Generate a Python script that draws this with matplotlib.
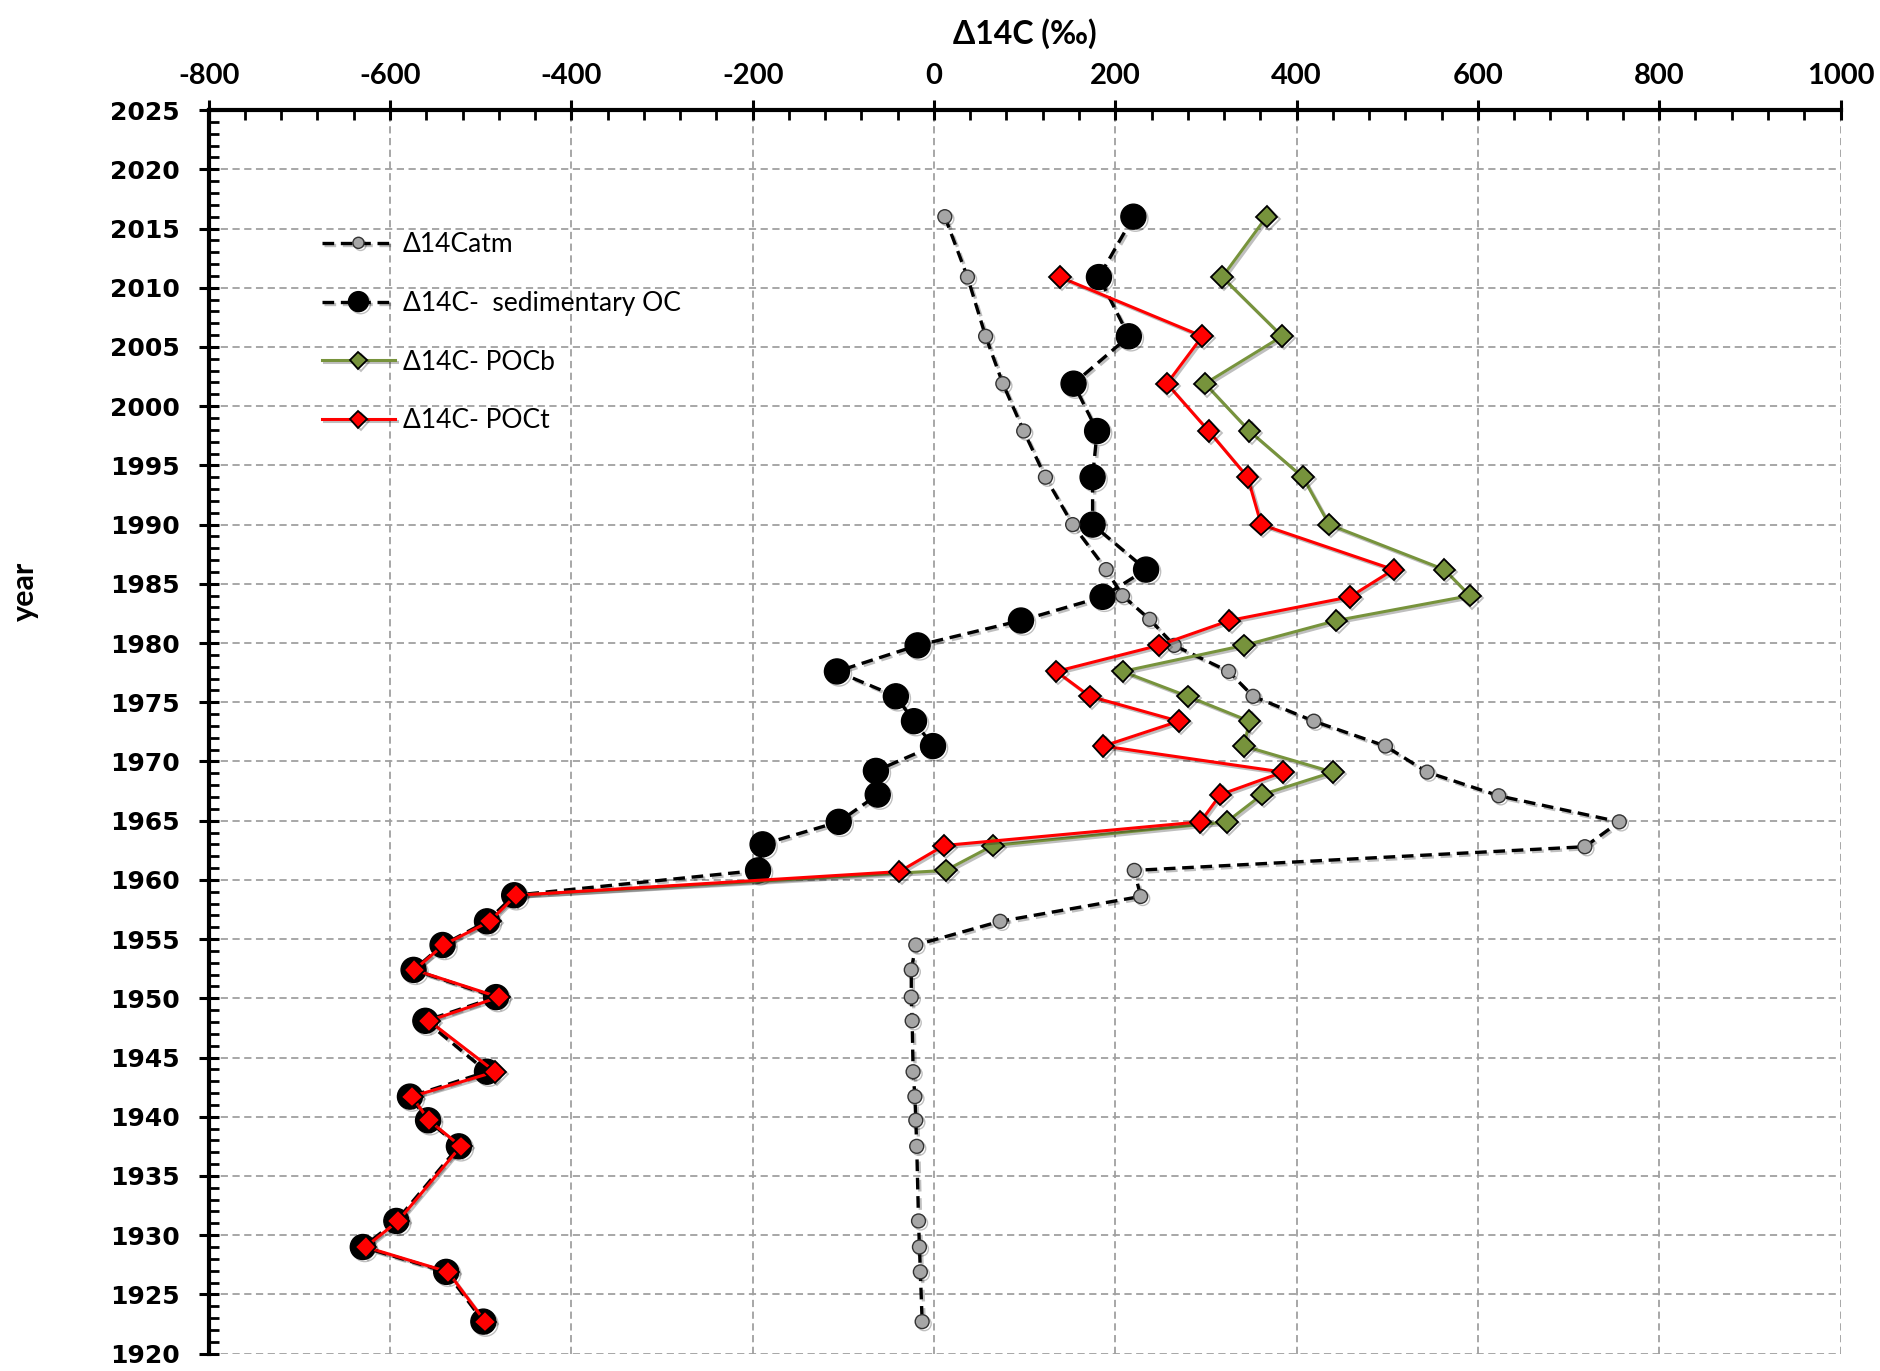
import matplotlib
matplotlib.use("Agg")
import matplotlib.pyplot as plt
import matplotlib.patheffects as pe
from matplotlib.ticker import MultipleLocator

plt.rcParams["axes.unicode_minus"] = False

# atmospheric D14C (gray small circles)
years_atm = [2016.0, 2010.9, 2005.9, 2001.9, 1997.9, 1994.0, 1990.0, 1986.2, 1984.0,
             1982.0, 1979.8, 1977.6, 1975.5, 1973.4, 1971.3, 1969.1, 1967.1, 1964.9,
             1962.8, 1960.8, 1958.6, 1956.5, 1954.5, 1952.4, 1950.1, 1948.1, 1943.8,
             1941.7, 1939.7, 1937.5, 1931.2, 1929.0, 1926.9, 1922.7]
d14c_atm = [12, 37, 57, 76, 99, 123, 153, 190, 208,
            238, 265, 325, 352, 419, 498, 544, 623, 756,
            718, 221, 228, 73, -20, -25, -25, -24, -23,
            -21, -20, -19, -17, -16, -15, -13]

# sedimentary OC (big black circles)
years_sed = [2016.0, 2010.9, 2005.9, 2001.9, 1997.9, 1994.0, 1990.0, 1986.2, 1983.9,
             1981.9, 1979.8, 1977.6, 1975.5, 1973.4, 1971.3, 1969.2, 1967.2, 1964.9,
             1963.0, 1960.8, 1958.7, 1956.5, 1954.5, 1952.4, 1950.1, 1948.1, 1943.8,
             1941.7, 1939.7, 1937.5, 1931.2, 1929.0, 1926.9, 1922.7]
d14c_sed = [220, 182, 215, 154, 180, 175, 175, 234, 186,
            96, -18, -107, -42, -22, -1, -64, -62, -105,
            -189, -194, -463, -493, -542, -574, -483, -561, -493,
            -578, -558, -524, -593, -630, -538, -497]

# POCb (green diamonds)
years_pocb = [2016.0, 2010.9, 2005.9, 2001.9, 1997.9, 1994.0, 1990.0, 1986.2, 1984.0,
              1981.9, 1979.8, 1977.6, 1975.5, 1973.4, 1971.3, 1969.1, 1967.2, 1964.9,
              1962.9, 1960.8, 1958.7]
d14c_pocb = [367, 318, 384, 299, 348, 407, 436, 563, 591,
             444, 342, 208, 280, 348, 342, 440, 362, 323,
             65, 13, -461]

# POCt (red diamonds)
years_poct = [2010.9, 2005.9, 2001.9, 1997.9, 1994.0, 1990.0, 1986.2, 1983.9,
              1981.9, 1979.8, 1977.6, 1975.5, 1973.4, 1971.3, 1969.1, 1967.2, 1964.9,
              1962.9, 1960.7, 1958.7, 1956.5, 1954.5, 1952.4, 1950.1, 1948.1, 1943.8,
              1941.7, 1939.7, 1937.5, 1931.2, 1929.0, 1926.9, 1922.7]
d14c_poct = [139, 296, 257, 303, 346, 361, 507, 459,
             326, 248, 135, 172, 270, 187, 385, 316, 294,
             11, -38, -461, -490, -541, -573, -480, -557, -484,
             -576, -557, -522, -591, -627, -536, -495]

shadow = [pe.SimpleLineShadow(offset=(1.5, -1.5), alpha=0.25), pe.Normal()]
sans = ["Lato", "DejaVu Sans"]

fig = plt.figure(figsize=(18.8, 13.71), dpi=100)
ax = fig.add_axes([0.111, 0.0127, 0.868, 0.907])

ax.plot(d14c_sed, years_sed, "--", color="black", lw=2.4, dashes=(3.5, 2),
        marker="o", ms=18, mfc="black", mec="black",
        label="Δ14C-  sedimentary OC", zorder=3, path_effects=shadow)
ax.plot(d14c_atm, years_atm, "--", color="black", lw=2.4, dashes=(3.5, 2),
        marker="o", ms=10, mfc="#A6A6A6", mec="#333333", mew=1,
        label="Δ14Catm", zorder=4, path_effects=shadow)
ax.plot(d14c_pocb, years_pocb, "-", color="#77933C", lw=2.2,
        marker="D", ms=11, mfc="#77933C", mec="black", mew=1.3,
        label="Δ14C- POCb", zorder=5, path_effects=shadow)
ax.plot(d14c_poct, years_poct, "-", color="#FF0000", lw=2.2,
        marker="D", ms=11, mfc="#FF0000", mec="black", mew=1.3,
        label="Δ14C- POCt", zorder=6, path_effects=shadow)

ax.set_xlim(-800, 1000)
ax.set_ylim(1920, 2025)
ax.xaxis.set_major_locator(MultipleLocator(200))
ax.xaxis.set_minor_locator(MultipleLocator(40))
ax.yaxis.set_major_locator(MultipleLocator(5))
ax.yaxis.set_minor_locator(MultipleLocator(1))

ax.xaxis.tick_top()
ax.xaxis.set_label_position("top")
ax.tick_params(axis="both", which="major", direction="inout", length=14, width=2.2)
ax.tick_params(axis="x", which="major", pad=8)
ax.tick_params(axis="y", which="major", pad=14)
ax.tick_params(axis="both", which="minor", direction="in", length=7, width=2)
ax.tick_params(axis="x", which="both", bottom=False, top=True)
ax.tick_params(axis="y", which="both", left=True, right=False)

for lab in ax.get_xticklabels():
    lab.set_fontfamily(sans)
    lab.set_fontweight("bold")
    lab.set_fontsize(21)
for lab in ax.get_yticklabels():
    lab.set_fontfamily("DejaVu Sans")
    lab.set_fontweight("bold")
    lab.set_fontsize(18)

ax.set_xlabel("Δ14C (‰)", fontsize=23, fontweight="bold", labelpad=14, family=sans)
ax.set_ylabel("year", fontsize=22, fontweight="bold", family=sans)
ax.yaxis.set_label_coords(-0.104, 0.613)

for s in ["right", "bottom"]:
    ax.spines[s].set_visible(False)
for s in ["top", "left"]:
    ax.spines[s].set_linewidth(3)

ax.grid(True, which="major", color="#A0A0A0", linestyle=(0, (4, 2.5)), lw=1.3, zorder=0)
ax.set_axisbelow(True)

handles, labels = ax.get_legend_handles_labels()
order = [1, 0, 2, 3]
ax.legend([handles[i] for i in order], [labels[i] for i in order],
          loc="upper left", bbox_to_anchor=(0.055, 0.921), frameon=False,
          prop={"family": sans, "size": 19},
          handlelength=2.75, handletextpad=0.3, labelspacing=1.28, markerscale=0.8)

fig.savefig("out.png", dpi=100)
